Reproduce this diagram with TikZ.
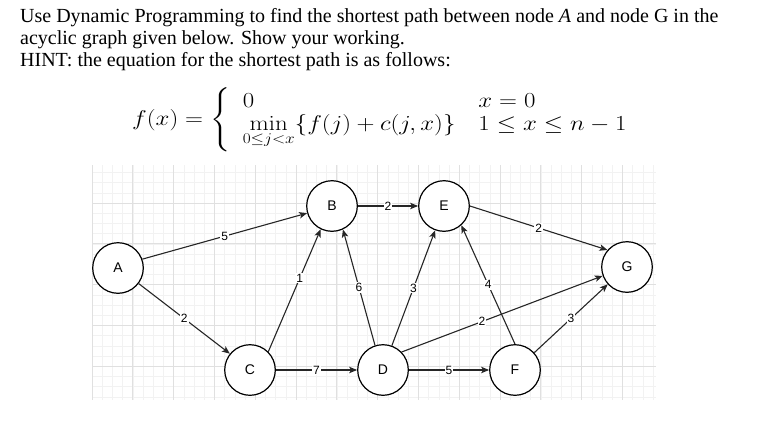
\documentclass[tikz,border=0pt]{standalone}
\usepackage{amsmath}
\usepackage{graphicx}
\usepackage[no-math]{fontspec}
\setmainfont{Liberation Serif}
\newfontfamily\graphfont{Liberation Sans}
\usetikzlibrary{arrows.meta}
\tikzset{
  vertex/.style  = {circle, draw=black, line width=1.2pt, fill=white,
                    minimum size=50.6pt, inner sep=0pt,
                    font=\graphfont\fontsize{14}{16}\selectfont},
  elabel/.style  = {fill=white, inner sep=1pt,
                    font=\graphfont\fontsize{12}{14}\selectfont},
  arrow/.style   = {-{Stealth[length=8pt, width=6.5pt, inset=2pt]},
                    line width=1.1pt, draw=black!85},
  gminor/.style  = {draw=black!5, line width=0.6pt},
  gmajor/.style  = {draw=black!12, line width=0.8pt},
  qtext/.style   = {anchor=base west, inner sep=0pt,
                    font=\fontsize{20}{22}\selectfont},
}

\begin{document}
\begin{tikzpicture}[x=1pt, y=-1pt]
  \useasboundingbox (0,0) rectangle (759,441);

  % ---- Question ----
  \node[qtext] (line1) at (20,23)
        {Use Dynamic Programming to find the shortest path between node \textit{A} and node G in the};
  \node[qtext] (line2) at (20,45) {acyclic graph given below. Show your working.};
  \node[qtext] (line3) at (20,67) {HINT: the equation for the shortest path is as follows:};

  % ---- Recurrence ----
  \node[anchor=west, inner sep=0pt, font=\fontsize{23}{27}\selectfont] (eqn) at (132,120)
        {\scalebox{1}[0.86]{$f(x)=\left\{\begin{array}{@{\hspace{0.55em}}l@{\quad}l@{}}
           0 & x=0\\[0pt]
           \min\limits_{0\le j<x}\{f(j)+c(j,x)\} & 1\le x\le n-1
         \end{array}\right.$}};

  % ---- Grid ----
  \foreach \i in {0,...,55}
    \draw[gminor] ({92+10.2*\i},165) -- ({92+10.2*\i},400);
  \foreach \i in {0,...,22}
    \draw[gminor] (92,{172.4+10.2*\i}) -- (656,{172.4+10.2*\i});
  \foreach \i in {0,...,13}
    \draw[gmajor] ({92+40.8*\i},165) -- ({92+40.8*\i},400);
  \foreach \i in {0,...,4}
    \draw[gmajor] (92,{203+40.8*\i}) -- (656,{203+40.8*\i});

  % ---- Vertices ----
  \node[vertex] (A) at (118,268) {A};
  \node[vertex] (B) at (332,206) {B};
  \node[vertex] (E) at (444,206) {E};
  \node[vertex] (G) at (627,267) {G};
  \node[vertex] (C) at (250,370) {C};
  \node[vertex] (D) at (383,370) {D};
  \node[vertex] (F) at (515,370) {F};

  % ---- Weighted edges ----
  \foreach \a/\b/\w/\p in {A.20/B.196/5/0.5, A.-37/C.141/2/0.5,
                           C.45/B.-116/1/0.6, D.108/B.-65/6/0.5,
                           B.east/E.west/2/0.5, D.70/E.-110/3/0.5,
                           F.90/E.-48/4/0.5, E.0/G.139/2/0.5,
                           C.east/D.west/7/0.5, D.east/F.west/5/0.5,
                           D.44/G.200/2/0.4, F.42/G.222/3/0.5}
    \draw[arrow] (\a) -- node[elabel, pos=\p] {\w} (\b);

\end{tikzpicture}
\end{document}
